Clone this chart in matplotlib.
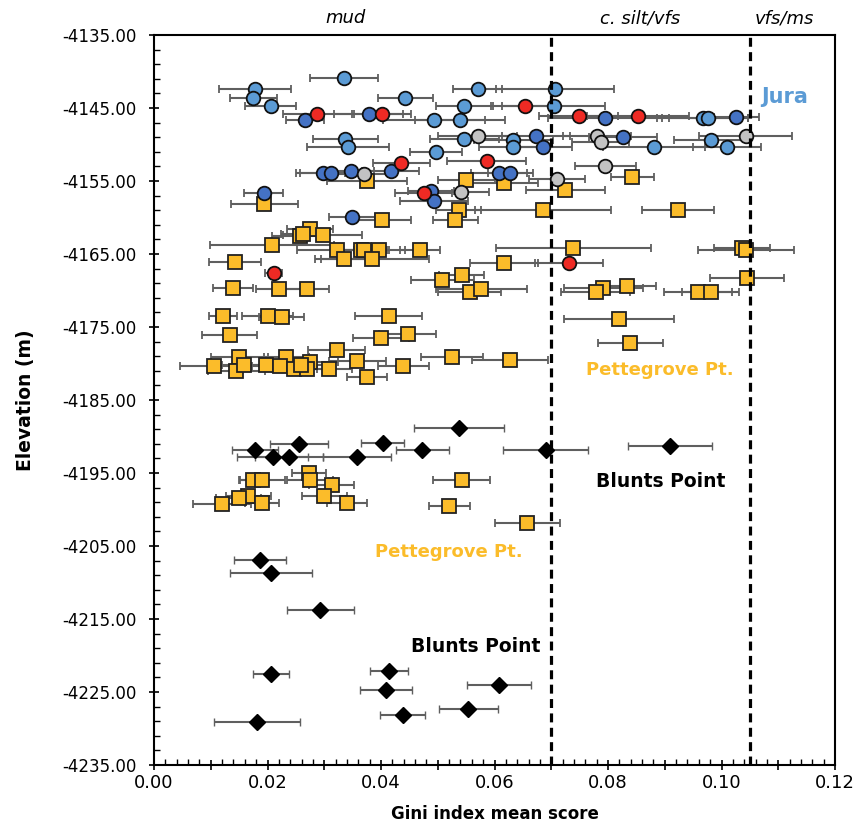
import matplotlib
matplotlib.use("Agg")
import numpy as np
import matplotlib.pyplot as plt
from matplotlib.ticker import MultipleLocator, FixedLocator, FuncFormatter, FormatStrFormatter
import matplotlib.transforms as mtransforms

# Jura - light blue circles
jura_lb_x = [0.0334, 0.0178, 0.0175, 0.0206, 0.0443, 0.0547, 0.0570, 0.0707, 0.0704, 0.0494,
             0.0539, 0.0337, 0.0342, 0.0497, 0.0547, 0.0633, 0.0633, 0.0881, 0.0982, 0.1009,
             0.0967, 0.0977]
jura_lb_y = [-4140.9, -4142.4, -4143.7, -4144.8, -4143.7, -4144.8, -4142.4, -4142.4, -4144.8, -4146.7,
             -4146.7, -4149.2, -4150.3, -4151.0, -4149.2, -4149.4, -4150.4, -4150.3, -4149.4, -4150.3,
             -4146.4, -4146.4]
jura_lb_err = [0.0060, 0.0063, 0.0042, 0.0045, 0.0048, 0.0050, 0.0044, 0.0104, 0.0090, 0.0090,
               0.0080, 0.0057, 0.0072, 0.0046, 0.0060, 0.0070, 0.0060, 0.0090, 0.0065, 0.0060,
               0.0080, 0.0070]

# Jura - dark blue circles
jura_db_x = [0.0378, 0.0266, 0.0297, 0.0311, 0.0347, 0.0417, 0.0608, 0.0628, 0.0488, 0.0494,
             0.0193, 0.0349, 0.0795, 0.1026, 0.0673, 0.0686, 0.0826]
jura_db_y = [-4145.9, -4146.7, -4153.9, -4153.9, -4153.6, -4153.6, -4153.9, -4153.9, -4156.4, -4157.7,
             -4156.7, -4160.0, -4146.4, -4146.3, -4148.8, -4150.3, -4149.0]
jura_db_err = [0.0060, 0.0033, 0.0040, 0.0060, 0.0040, 0.0050, 0.0050, 0.0040, 0.0040, 0.0060,
               0.0035, 0.0040, 0.0100, 0.0040, 0.0060, 0.0050, 0.0060]

# Jura - red circles
jura_red_x = [0.0288, 0.0402, 0.0653, 0.0748, 0.0853, 0.0436, 0.0586, 0.0475, 0.0211, 0.0731]
jura_red_y = [-4145.9, -4145.9, -4144.8, -4146.1, -4146.1, -4152.5, -4152.3, -4156.7, -4167.6, -4166.2]
jura_red_err = [0.0060, 0.0050, 0.0060, 0.0070, 0.0090, 0.0050, 0.0070, 0.0050, 0.0015, 0.0060]

# Jura - grey circles
jura_gr_x = [0.0570, 0.0370, 0.0541, 0.0781, 0.0787, 0.1043, 0.0795, 0.0710]
jura_gr_y = [-4148.9, -4154.0, -4156.5, -4148.8, -4149.7, -4148.8, -4152.9, -4154.7]
jura_gr_err = [0.0070, 0.0050, 0.0050, 0.0060, 0.0050, 0.0082, 0.0054, 0.0050]

# Pettegrove Pt. - gold squares
pet_x = [0.0375, 0.0550, 0.0617, 0.0843, 0.0725, 0.0194, 0.0537, 0.0531, 0.0686, 0.0923,
         0.0402, 0.0275, 0.0258, 0.0263, 0.0297, 0.0208, 0.0322, 0.0364, 0.0370, 0.0397,
         0.0469, 0.0334, 0.0384, 0.0739, 0.1036, 0.1043, 0.0142, 0.0617, 0.0508, 0.0542,
         0.0556, 0.0577, 0.0792, 0.0778, 0.0834, 0.0959, 0.0981, 0.1045, 0.0139, 0.0220,
         0.0269, 0.0122, 0.0200, 0.0225, 0.0414, 0.0820, 0.0133, 0.0400, 0.0447, 0.0839,
         0.0322, 0.0525, 0.0627, 0.0150, 0.0233, 0.0274, 0.0105, 0.0145, 0.0159, 0.0197,
         0.0222, 0.0247, 0.0269, 0.0259, 0.0308, 0.0358, 0.0439, 0.0375,
         0.0273, 0.0175, 0.0191, 0.0275, 0.0313, 0.0542, 0.0300, 0.0166, 0.0149, 0.0191,
         0.0340, 0.0119, 0.0520, 0.0658]
pet_y = [-4155.0, -4154.9, -4155.3, -4154.5, -4156.2, -4158.1, -4159.0, -4160.3, -4159.0, -4159.0,
         -4160.3, -4161.6, -4162.5, -4162.3, -4162.4, -4163.8, -4164.4, -4164.4, -4164.4, -4164.4,
         -4164.4, -4165.7, -4165.7, -4164.2, -4164.2, -4164.5, -4166.1, -4166.2, -4168.6, -4167.9,
         -4170.2, -4169.8, -4169.6, -4170.2, -4169.4, -4170.2, -4170.2, -4168.3, -4169.6, -4169.8,
         -4169.8, -4173.5, -4173.5, -4173.7, -4173.5, -4173.9, -4176.1, -4176.5, -4175.9, -4177.2,
         -4178.2, -4179.1, -4179.5, -4179.1, -4179.1, -4179.8, -4180.4, -4181.0, -4180.2, -4180.2,
         -4180.4, -4180.8, -4180.8, -4180.2, -4180.8, -4179.7, -4180.4, -4181.9,
         -4195.0, -4196.0, -4196.0, -4196.0, -4196.6, -4196.0, -4198.2, -4198.1, -4198.4, -4199.1,
         -4199.1, -4199.3, -4199.5, -4201.9]
pet_err = [0.0070, 0.0050, 0.0060, 0.0038, 0.0070, 0.0059, 0.0040, 0.0040, 0.0120, 0.0063,
           0.0050, 0.0040, 0.0050, 0.0040, 0.0070, 0.0110, 0.0070, 0.0050, 0.0040, 0.0045,
           0.0035, 0.0040, 0.0100, 0.0136, 0.0050, 0.0085, 0.0046, 0.0060, 0.0055, 0.0040,
           0.0055, 0.0080, 0.0070, 0.0060, 0.0050, 0.0060, 0.0050, 0.0065, 0.0035, 0.0040,
           0.0040, 0.0025, 0.0045, 0.0040, 0.0059, 0.0097, 0.0048, 0.0050, 0.0050, 0.0057,
           0.0050, 0.0054, 0.0067, 0.0050, 0.0040, 0.0050, 0.0060, 0.0050, 0.0040, 0.0040,
           0.0050, 0.0040, 0.0050, 0.0040, 0.0040, 0.0050, 0.0045, 0.0035,
           0.0030, 0.0025, 0.0040, 0.0040, 0.0040, 0.0050, 0.0040, 0.0040, 0.0040, 0.0030,
           0.0035, 0.0051, 0.0036, 0.0058]

# Blunts Point - black diamonds
bp_x = [0.0537, 0.0256, 0.0403, 0.0178, 0.0473, 0.0209, 0.0238, 0.0357, 0.0690, 0.0909,
        0.0187, 0.0206, 0.0293, 0.0206, 0.0414, 0.0409, 0.0608, 0.0554, 0.0438, 0.0181]
bp_y = [-4188.8, -4191.1, -4190.9, -4191.8, -4191.8, -4192.8, -4192.8, -4192.8, -4191.8, -4191.3,
        -4206.9, -4208.7, -4213.7, -4222.6, -4222.1, -4224.7, -4224.0, -4227.3, -4228.2, -4229.1]
bp_err = [0.0079, 0.0051, 0.0038, 0.0040, 0.0046, 0.0063, 0.0060, 0.0060, 0.0075, 0.0074,
          0.0046, 0.0072, 0.0059, 0.0032, 0.0033, 0.0046, 0.0057, 0.0052, 0.0040, 0.0076]

grain_bounds = [0.07, 0.105]
grain_labels = ["mud", "c. silt/vfs", "vfs/ms"]
grain_label_x = [0.0338, 0.0856, 0.111]

LIGHT_BLUE = "#5B9BD5"
DARK_BLUE = "#4472C4"
RED = "#EE2A24"
GREY = "#C3C3C3"
GOLD = "#FBBC2A"
ERR = "#5f5f5f"

plt.rcParams['font.family'] = ['DejaVu Sans']

fig = plt.figure(figsize=(8.62, 8.25), dpi=100)
ax = fig.add_axes([0.1787, 0.0727, 0.790, 0.885])

err_kw = dict(ecolor=ERR, elinewidth=1.5, capsize=3, capthick=1.5, linestyle='none')

ax.errorbar(pet_x, pet_y, xerr=pet_err, marker='s', markersize=9.5, mfc=GOLD,
            mec='#222222', mew=1.3, zorder=3, **err_kw)
for xs, ys, es, col in [(jura_lb_x, jura_lb_y, jura_lb_err, LIGHT_BLUE),
                        (jura_db_x, jura_db_y, jura_db_err, DARK_BLUE),
                        (jura_gr_x, jura_gr_y, jura_gr_err, GREY),
                        (jura_red_x, jura_red_y, jura_red_err, RED)]:
    ax.errorbar(xs, ys, xerr=es, marker='o', markersize=9.8, mfc=col,
                mec='#111111', mew=1.3, zorder=3, **err_kw)
ax.errorbar(bp_x, bp_y, xerr=bp_err, marker='D', markersize=8.5, mfc='black',
            mec='black', mew=1, zorder=3, **err_kw)

for b in grain_bounds:
    ax.axvline(b, color='black', linestyle=(0, (2.8, 1.7)), linewidth=2.3, zorder=4)

trans = mtransforms.blended_transform_factory(ax.transData, ax.transAxes)
for lx, lab in zip(grain_label_x, grain_labels):
    ax.text(lx, 1.023, lab, transform=trans, ha='center', va='center',
            fontsize=13, fontstyle='italic')

ax.text(0.1112, -4143.5, "Jura", color=LIGHT_BLUE, fontsize=15, fontweight='bold',
        ha='center', va='center')
ax.text(0.0892, -4180.9, "Pettegrove Pt.", color=GOLD, fontsize=13, fontweight='bold',
        ha='center', va='center')
ax.text(0.0892, -4196.2, "Blunts Point", color='black', fontsize=13.5, fontweight='bold',
        ha='center', va='center')
ax.text(0.0520, -4205.8, "Pettegrove Pt.", color=GOLD, fontsize=13, fontweight='bold',
        ha='center', va='center')
ax.text(0.0566, -4218.8, "Blunts Point", color='black', fontsize=13.5, fontweight='bold',
        ha='center', va='center')

ax.set_xlim(0, 0.12)
ax.set_ylim(-4235, -4135)
ax.xaxis.set_major_locator(MultipleLocator(0.01))
ax.xaxis.set_minor_locator(MultipleLocator(0.002))
ax.xaxis.set_major_formatter(FuncFormatter(
    lambda v, p: f"{v:.2f}" if int(round(v / 0.01)) % 2 == 0 else ""))
ax.yaxis.set_major_locator(FixedLocator(np.arange(-4235, -4134, 10)))
ax.yaxis.set_minor_locator(FixedLocator(np.arange(-4235, -4134, 2)))
ax.yaxis.set_major_formatter(FormatStrFormatter('%.2f'))
ax.tick_params(axis='both', which='major', direction='inout', length=7, width=1.2)
ax.tick_params(axis='x', which='major', labelsize=13, pad=3)
ax.tick_params(axis='y', which='major', labelsize=12, pad=9)
ax.tick_params(axis='both', which='minor', direction='in', length=4, width=1)
for s in ax.spines.values():
    s.set_linewidth(1.5)

ax.set_xlabel("Gini index mean score", fontsize=12, fontweight='bold', labelpad=9)
ax.set_ylabel("Elevation (m)", fontsize=13.5, fontweight='bold', labelpad=20)

fig.savefig("out.png", dpi=100)
